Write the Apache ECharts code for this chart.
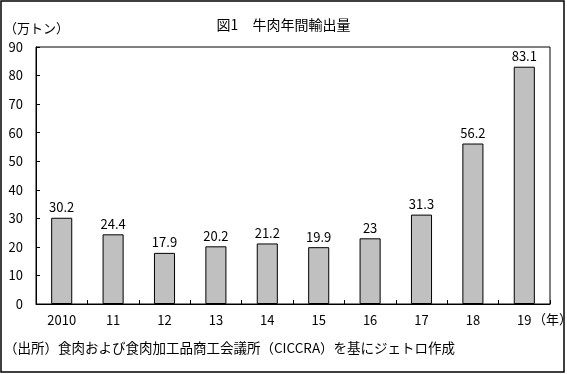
<!DOCTYPE html>
<html><head><meta charset="utf-8">
<script src="https://cdn.jsdelivr.net/npm/echarts@6/dist/echarts.min.js"></script>
<style>html,body{margin:0;padding:0;background:#fff}#c{width:567px;height:374px}</style>
</head><body><div id="c"></div>
<script>
const categories = ['2010','11','12','13','14','15','16','17','18','19'];
const exportVolume = [30.2, 24.4, 17.9, 20.2, 21.2, 19.9, 23, 31.3, 56.2, 83.1];
const yTicks = [0,10,20,30,40,50,60,70,80,90];
const titleText = '図1　牛肉年間輸出量';
const yUnit = '（万トン）';
const xUnit = '（年）';
const sourceText = '（出所）食肉および食肉加工品商工会議所（CICCRA）を基にジェトロ作成';

const FONT = '"Noto Sans CJK JP", sans-serif';
const chart = echarts.init(document.getElementById('c'), null, {renderer:'canvas'});
chart.setOption({
  animation: false,
  backgroundColor: '#fff',
  textStyle: {fontFamily: FONT, color: '#000'},
  title: {
    text: titleText, left: 'center', top: 13,
    textStyle: {fontFamily: FONT, fontSize: 14, fontWeight: 'normal', color: '#000'}
  },
  grid: {left: 36, right: 17, top: 47, bottom: 70, show: true, borderColor: '#000', borderWidth: 1, backgroundColor: 'transparent'},
  xAxis: {
    type: 'category', data: categories,
    axisLine: {lineStyle: {color: '#000', width: 1}},
    axisTick: {show: true, inside: true, length: 4, alignWithLabel: false, lineStyle: {color: '#000'}},
    axisLabel: {fontFamily: FONT, fontSize: 13, color: '#000', margin: 10}
  },
  yAxis: {
    type: 'value', min: yTicks[0], max: yTicks[yTicks.length-1], interval: 10,
    axisLine: {show: true, lineStyle: {color: '#000', width: 1}},
    axisTick: {show: true, inside: true, length: 4, lineStyle: {color: '#000'}},
    splitLine: {show: false},
    axisLabel: {fontFamily: FONT, fontSize: 13, color: '#000', margin: 13}
  },
  series: [{
    type: 'bar', data: exportVolume, barWidth: '41%',
    itemStyle: {color: '#c0c0c0', borderColor: '#000', borderWidth: 1},
    label: {show: true, position: 'top', distance: 4, fontFamily: FONT, fontSize: 13, color: '#000'}
  }],
  graphic: [
    {type: 'rect', shape: {x: 1, y: 1, width: 563, height: 371}, style: {fill: 'none', stroke: '#000', lineWidth: 1.5}, silent: true},
    {type: 'text', left: 4, top: 22, style: {text: yUnit, font: '13px ' + FONT, fill: '#000'}},
    {type: 'text', left: 533, top: 313, style: {text: xUnit, font: '13px ' + FONT, fill: '#000'}},
    {type: 'text', left: 4, top: 341, style: {text: sourceText, font: '13.5px ' + FONT, fill: '#000'}}
  ]
});
</script></body></html>
